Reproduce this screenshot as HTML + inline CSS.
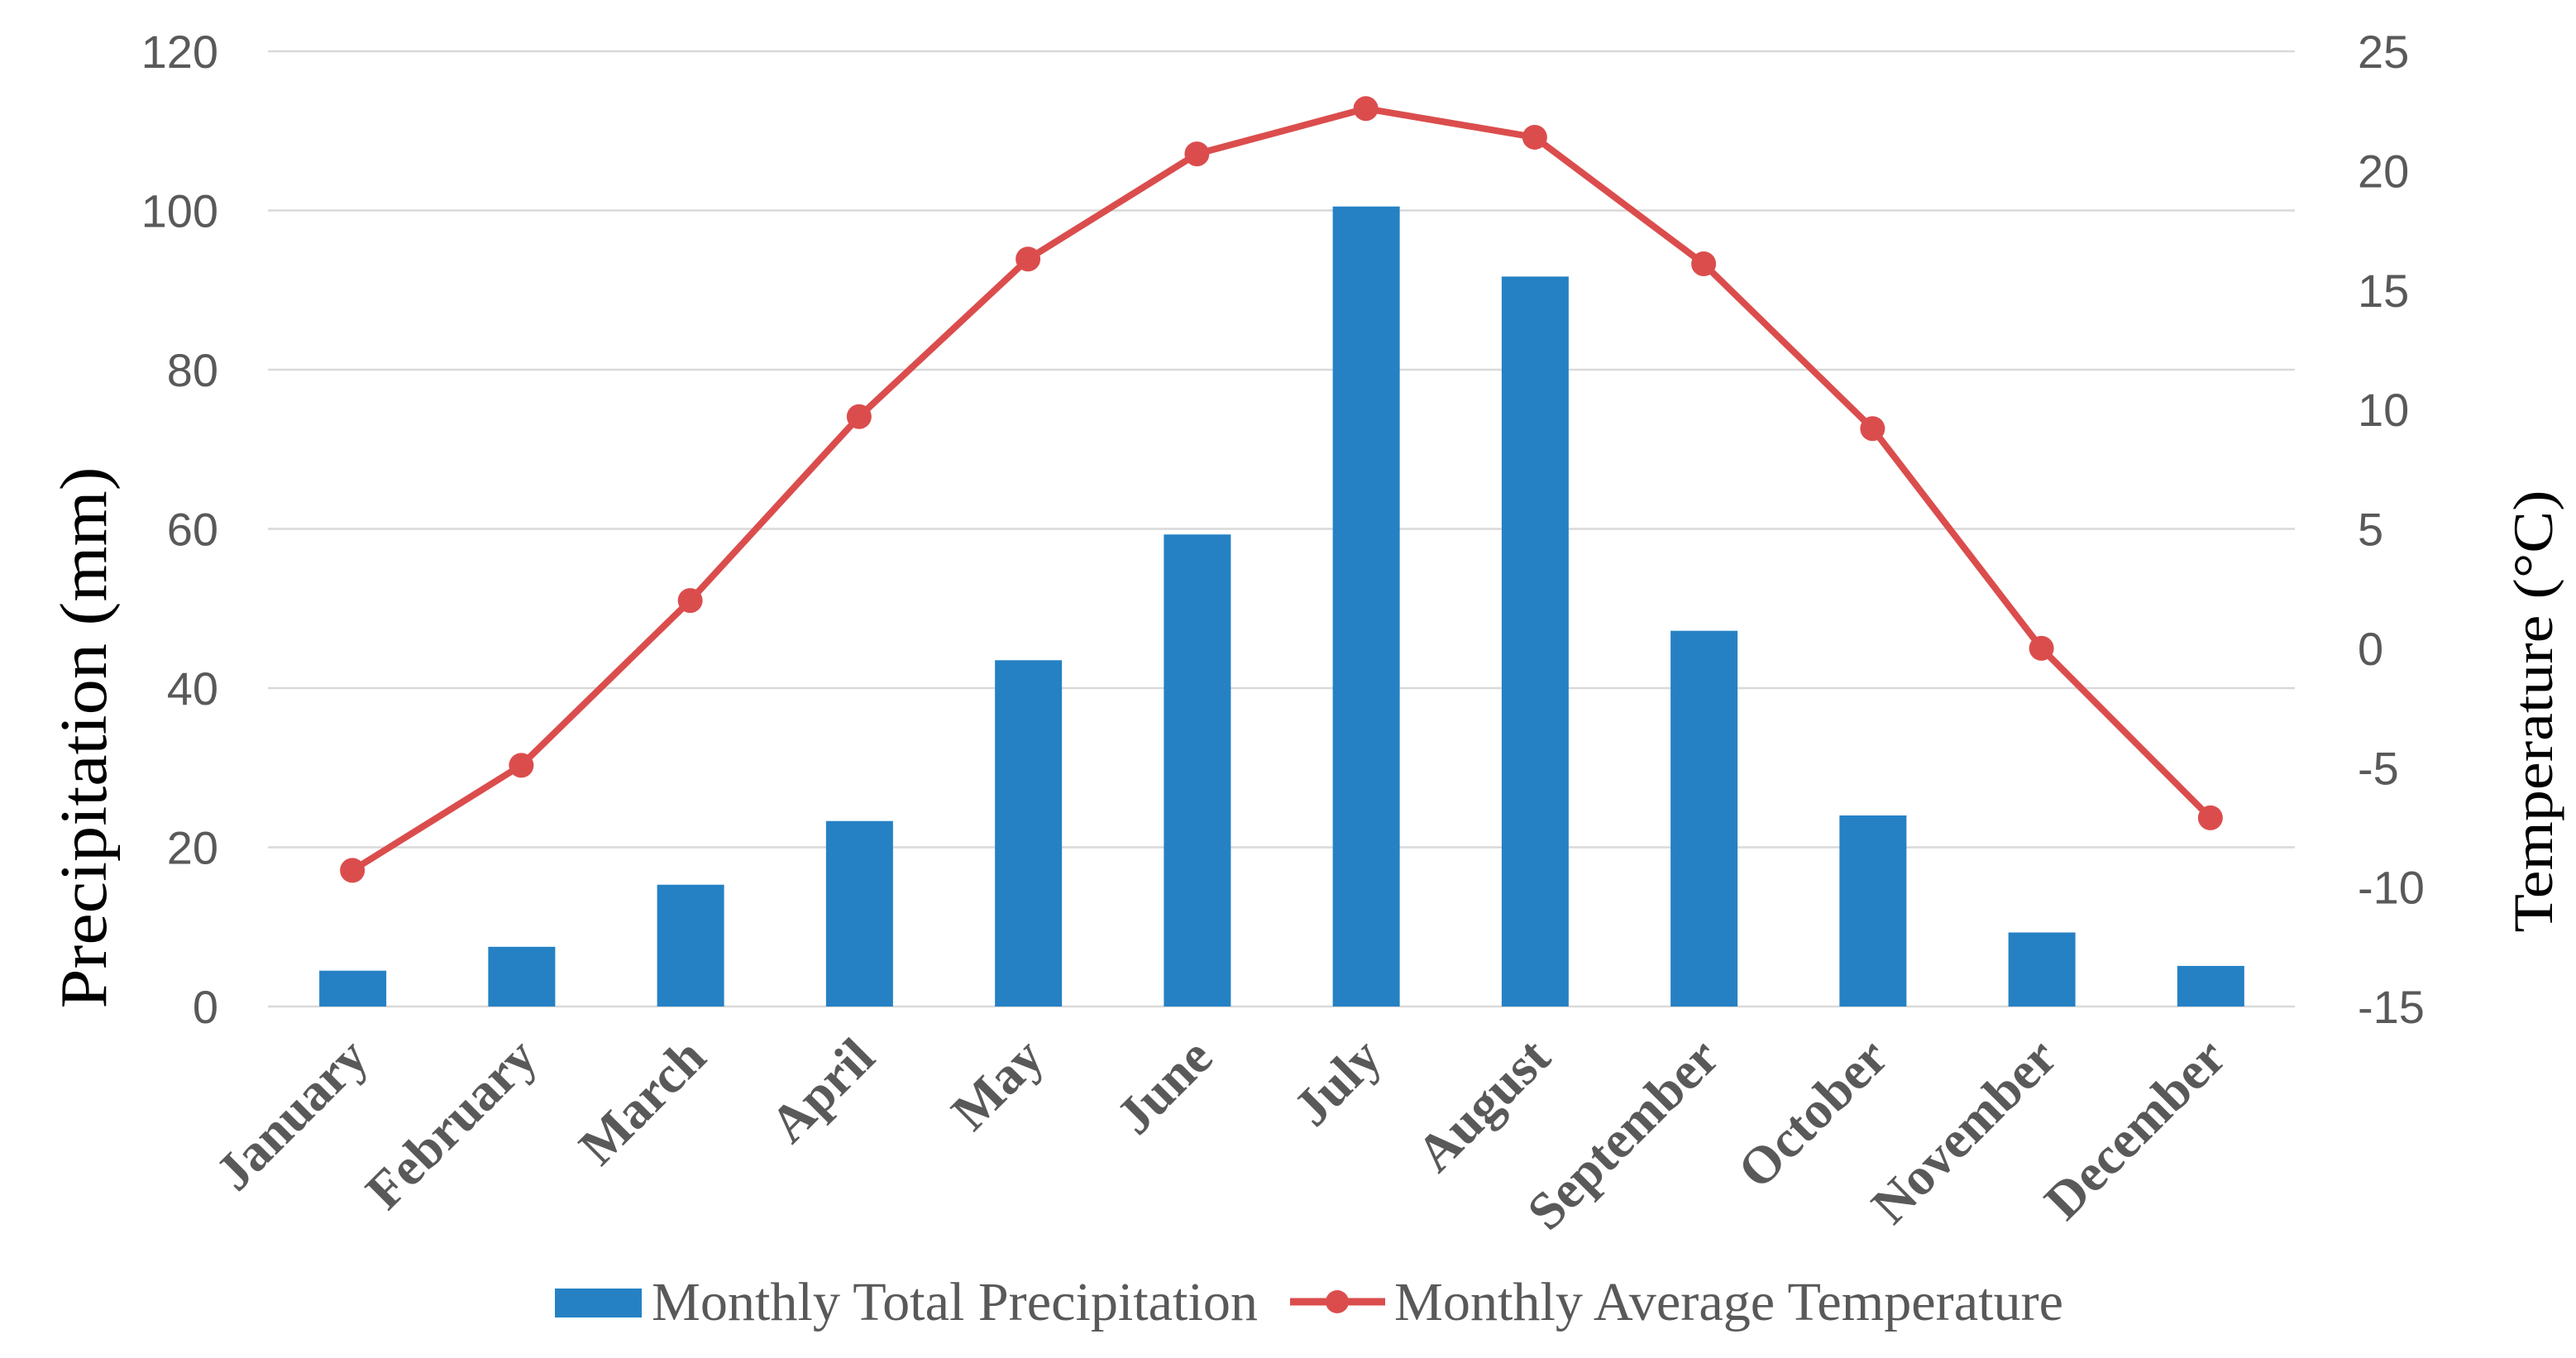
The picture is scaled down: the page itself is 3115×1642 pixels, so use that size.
<!DOCTYPE html>
<html><head><meta charset="utf-8"><style>
html,body{margin:0;padding:0;background:#fff;}
svg{display:block;}
</style></head><body>
<svg id="chart" width="3115" height="1642" viewBox="0 0 3115 1642" xmlns="http://www.w3.org/2000/svg">
<g id="grid"></g>
<g id="bars"></g>
<g id="line"></g>
<g id="yl"></g>
<g id="yr"></g>
<g id="xl"></g>
<text transform="translate(128,892) rotate(-90)" text-anchor="middle" font-family="Liberation Serif, serif" font-size="80" fill="#000" textLength="655" lengthAdjust="spacingAndGlyphs">Precipitation (mm)</text>
<text transform="translate(3086,860) rotate(-90)" text-anchor="middle" font-family="Liberation Serif, serif" font-size="68" fill="#000" textLength="535" lengthAdjust="spacingAndGlyphs">Temperature (°C)</text>
<g>
<rect x="671" y="1558" width="105" height="35" fill="#2581C4"/>
<text x="788" y="1596" font-family="Liberation Serif, serif" font-size="66" fill="#595959" textLength="733" lengthAdjust="spacingAndGlyphs">Monthly Total Precipitation</text>
<line x1="1560" y1="1574" x2="1675" y2="1574" stroke="#DB4D4D" stroke-width="9"/>
<circle cx="1617" cy="1574" r="14" fill="#DB4D4D"/>
<text x="1686" y="1596" font-family="Liberation Serif, serif" font-size="66" fill="#595959" textLength="809" lengthAdjust="spacingAndGlyphs">Monthly Average Temperature</text>
</g>
</svg>
<script>
const months = ["January","February","March","April","May","June","July","August","September","October","November","December"];
const precipitation = [4.5, 7.5, 15.3, 23.3, 43.5, 59.3, 100.5, 91.7, 47.2, 24.0, 9.3, 5.1];
const temperature = [-9.3, -4.9, 2.0, 9.7, 16.3, 20.7, 22.6, 21.4, 16.1, 9.2, 0.0, -7.1];
const leftTicks = [0, 20, 40, 60, 80, 100, 120];
const rightTicks = [-15, -10, -5, 0, 5, 10, 15, 20, 25];

const NS = "http://www.w3.org/2000/svg";
const X0 = 324, X1 = 2775, YTOP = 62, YBOT = 1217;
const band = (X1 - X0) / months.length;
function xc(i){ return X0 + band * (i + 0.5); }
function yL(v){ return YBOT - (v - 0) / (120 - 0) * (YBOT - YTOP); }
function yR(v){ return YBOT - (v + 15) / (25 + 15) * (YBOT - YTOP); }
function mk(tag, attrs, parent){
  const el = document.createElementNS(NS, tag);
  for (const k in attrs) el.setAttribute(k, attrs[k]);
  parent.appendChild(el);
  return el;
}
const grid = document.getElementById("grid");
const bars = document.getElementById("bars");
const line = document.getElementById("line");
const yl = document.getElementById("yl");
const yr = document.getElementById("yr");
const xl = document.getElementById("xl");

leftTicks.forEach(v => {
  const g = mk("line", {x1: X0, x2: X1, y1: yL(v), y2: yL(v), stroke: "#D9D9D9", "stroke-width": 2.5}, grid);
  
  
  const t = mk("text", {x: 264, y: yL(v) + 20, "text-anchor": "end", "font-family": "Liberation Sans, sans-serif", "font-size": 56, fill: "#595959"}, yl);
  
  
  t.textContent = v;
});
rightTicks.forEach(v => {
  const t = mk("text", {x: 2851, y: yR(v) + 20, "text-anchor": "start", "font-family": "Liberation Sans, sans-serif", "font-size": 56, fill: "#595959"}, yr);
  
  
  t.textContent = v;
});
precipitation.forEach((v, i) => {
  const b = mk("rect", {x: xc(i) - 40, y: yL(v), width: 81, height: yL(0) - yL(v), fill: "#2581C4"}, bars);
  
  
});
const pts = temperature.map((v, i) => xc(i) + "," + yR(v)).join(" ");
const pl = mk("polyline", {points: pts, fill: "none", stroke: "#DB4D4D", "stroke-width": 8, "stroke-linejoin": "round"}, line);


temperature.forEach((v, i) => {
  const c = mk("circle", {cx: xc(i), cy: yR(v), r: 15, fill: "#DB4D4D"}, line);
  
  
});
months.forEach((m, i) => {
  const x = xc(i) + 22, y = 1282;
  const t = mk("text", {transform: "translate(" + x + "," + y + ") rotate(-45)", "text-anchor": "end", "font-family": "Liberation Serif, serif", "font-weight": "bold", "font-size": 64, fill: "#595959"}, xl);
  
  
  t.textContent = m;
});
</script>
</body></html>
